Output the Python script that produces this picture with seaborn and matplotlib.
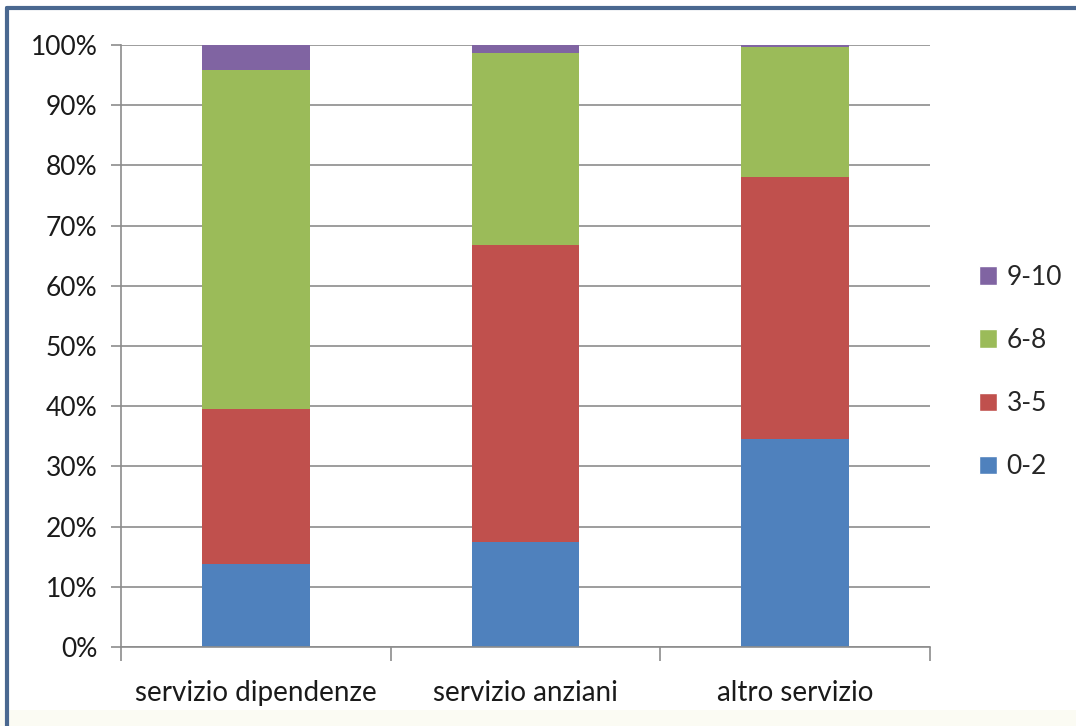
import matplotlib
matplotlib.use('Agg')
import matplotlib.pyplot as plt
import seaborn as sns
import numpy as np
from matplotlib.patches import Patch, Rectangle
from matplotlib.lines import Line2D
from matplotlib.ticker import PercentFormatter

# data (share of answers, %)
categories = ['servizio dipendenze', 'servizio anziani', 'altro servizio']
bands = ['0-2', '3-5', '6-8', '9-10']
v_0_2 = [13.8, 17.5, 34.5]
v_3_5 = [25.8, 49.3, 43.6]
v_6_8 = [56.2, 31.9, 21.5]
v_9_10 = [4.2, 1.3, 0.4]
colors = ['#4F81BD', '#C0504D', '#9BBB59', '#8064A2']

sns.set_theme(style='white')
plt.rcParams['font.family'] = ['Lato', 'DejaVu Sans']

fig = plt.figure(figsize=(10.76, 7.26), dpi=100)
ax = fig.add_axes([121 / 1076, 1 - 647 / 726, 809 / 1076, 602 / 726])

# stacked bars: draw cumulative totals from the top band down
stack = np.cumsum([v_0_2, v_3_5, v_6_8, v_9_10], axis=0)
for i in range(3, -1, -1):
    sns.barplot(x=categories, y=stack[i], color=colors[i], width=0.4,
                saturation=1, linewidth=0, ax=ax, zorder=2)

ax.set_ylim(0, 100)
ax.set_xlim(-0.5, 2.5)
ax.set_yticks(range(0, 101, 10))
ax.yaxis.set_major_formatter(PercentFormatter(decimals=0))
ax.grid(axis='y', color='#8c8c8c', linewidth=1.2, zorder=0)
ax.set_axisbelow(True)
for s in ['top', 'right']:
    ax.spines[s].set_visible(False)
ax.spines['left'].set_color('#8c8c8c')
ax.spines['bottom'].set_color('#8c8c8c')
ax.spines['left'].set_linewidth(1.2)
ax.spines['bottom'].set_linewidth(1.2)

# category boundaries as tick marks on the x axis
ax.set_xticks([-0.5, 0.5, 1.5, 2.5], minor=True)
ax.tick_params(axis='x', which='minor', bottom=True, length=10, width=1.2,
               color='#8c8c8c')
ax.tick_params(axis='x', which='major', bottom=False, labelsize=20, pad=18,
               colors='#1a1a1a')
ax.tick_params(axis='y', left=True, length=7, width=1.2, color='#8c8c8c',
               labelsize=19, pad=10, colors='#1a1a1a')

handles = [Patch(facecolor=colors[i], label=bands[i]) for i in range(3, -1, -1)]
fig.legend(handles=handles, loc='center left', bbox_to_anchor=(955 / 1076, 1 - 372 / 726),
           frameon=False, fontsize=19, handlelength=0.7, handleheight=0.7,
           handletextpad=0.35, labelspacing=1.45)

# off-white strip at the bottom and blue frame
fig.add_artist(Rectangle((0, 0), 1, 16 / 726, transform=fig.transFigure,
                         facecolor='#fbfbf3', edgecolor='none', zorder=0))
fig.add_artist(Line2D([7 / 1076, 7 / 1076], [0, 1 - 8 / 726], transform=fig.transFigure,
                      color='#4a6890', linewidth=3))
fig.add_artist(Line2D([7 / 1076, 1], [1 - 8 / 726, 1 - 8 / 726], transform=fig.transFigure,
                      color='#4a6890', linewidth=3))

fig.savefig('out.png', dpi=100)
